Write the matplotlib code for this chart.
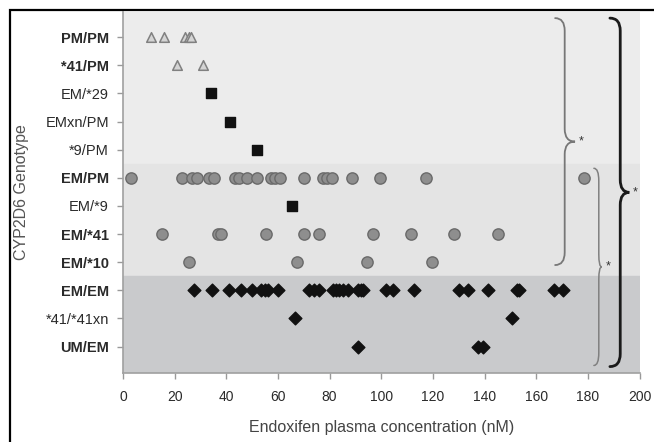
import matplotlib
matplotlib.use('Agg')
import matplotlib.pyplot as plt
import matplotlib.patches as patches
from matplotlib.path import Path
import numpy as np

plt.rcParams['font.family'] = ['Liberation Sans', 'DejaVu Sans']

# genotypes, top to bottom
genotypes = ['PM/PM', '*41/PM', 'EM/*29', 'EMxn/PM', '*9/PM', 'EM/PM',
             'EM/*9', 'EM/*41', 'EM/*10', 'EM/EM', '*41/*41xn', 'UM/EM']
bold_labels = ['PM/PM', '*41/PM', 'EM/PM', 'EM/*41', 'EM/*10', 'EM/EM', 'UM/EM']

# endoxifen concentrations (nM) per genotype
pm_pm = [11, 16, 24, 25.5, 26.5]
g41_pm = [21, 31]
em_29 = [34.2]
emxn_pm = [41.4]
g9_pm = [52]
em_pm = [3.3, 23, 26.7, 28.7, 33.5, 35.4, 43.3, 45.1, 48.2, 51.8, 57.4, 59,
         60.8, 70, 77.4, 79, 80.9, 88.6, 99.6, 117.4, 178.3]
em_9 = [65.3]
em_41 = [15.1, 36.9, 38, 55.3, 70.1, 75.8, 96.9, 111.4, 128, 145]
em_10 = [25.4, 67.2, 94.4, 119.6]
em_em = [27.5, 34.5, 41, 45.8, 50, 53.5, 55, 56, 60, 72, 74, 76, 81.5, 82.5,
         83.5, 85, 87, 91, 92, 93, 102, 104.5, 112.5, 130, 133.5, 141.5,
         152.5, 153.5, 167, 170.5]
g41_41xn = [66.5, 150.5]
um_em = [90.9, 137.3, 139.2]

ypos = {g: len(genotypes) - i for i, g in enumerate(genotypes)}

fig = plt.figure(figsize=(6.54, 4.42), dpi=100)
ax = fig.add_axes([0.188, 0.156, 0.79, 0.817])

# shaded bands
ax.axhspan(ypos['*9/PM'] - 0.5, 13, color='#ececec', zorder=0)
ax.axhspan(ypos['EM/*10'] - 0.5, ypos['*9/PM'] - 0.5, color='#e4e4e4', zorder=0)
ax.axhspan(0, ypos['EM/*10'] - 0.5, color='#c9cacc', zorder=0)

tri = dict(marker='^', s=48, facecolor='#d4d4d4', edgecolor='#808080', linewidth=1.1, zorder=3)
sq = dict(marker='s', s=50, color='#111111', zorder=3)
circ = dict(marker='o', s=66, facecolor='#8e8e8e', edgecolor='#6a6a6a', linewidth=1, zorder=3)
dia = dict(marker='D', s=42, color='#111111', zorder=3)

def row(vals, g, style):
    ax.scatter(vals, [ypos[g]] * len(vals), **style)

row(pm_pm, 'PM/PM', tri)
row(g41_pm, '*41/PM', tri)
row(em_29, 'EM/*29', sq)
row(emxn_pm, 'EMxn/PM', sq)
row(g9_pm, '*9/PM', sq)
row(em_pm, 'EM/PM', circ)
row(em_9, 'EM/*9', sq)
row(em_41, 'EM/*41', circ)
row(em_10, 'EM/*10', circ)
row(em_em, 'EM/EM', dia)
row(g41_41xn, '*41/*41xn', dia)
row(um_em, 'UM/EM', dia)

# curly braces
def brace(xe, xb, xt, yt, yb, color, lw, h=0.45):
    ym = (yt + yb) / 2
    verts = [(xe, yt), (xb, yt), (xb, yt - h),
             (xb, ym + h), (xb, ym), (xt, ym),
             (xb, ym), (xb, ym - h),
             (xb, yb + h), (xb, yb), (xe, yb)]
    codes = [Path.MOVETO, Path.CURVE3, Path.CURVE3,
             Path.LINETO, Path.CURVE3, Path.CURVE3,
             Path.CURVE3, Path.CURVE3,
             Path.LINETO, Path.CURVE3, Path.CURVE3]
    ax.add_patch(patches.PathPatch(Path(verts, codes), fill=False, edgecolor=color,
                                   linewidth=lw, zorder=4, capstyle='round'))
    ax.text(xt + 1.5, ym, '*', fontsize=9, color='#333333', va='center', ha='left', zorder=5)

top = ypos['PM/PM'] + 0.68
brace(167.3, 171, 175, top, ypos['EM/*10'] - 0.1, '#777777', 1.3)
brace(182.3, 184.2, 185.3, ypos['EM/PM'] + 0.34, ypos['UM/EM'] - 0.67, '#808080', 1.1)
brace(188.5, 192.5, 196, top, ypos['UM/EM'] - 0.71, '#1a1a1a', 2.0)

ax.set_xlim(0, 200)
ax.set_ylim(0.06, 12.9)
ax.set_xticks(np.arange(0, 201, 20))
ax.set_yticks([ypos[g] for g in genotypes])
ax.set_yticklabels(genotypes)
for lab in ax.get_yticklabels():
    if lab.get_text() in bold_labels:
        lab.set_fontweight('bold')

ax.tick_params(axis='both', colors='#999999', labelcolor='#2a2a2a', length=4, width=1)
ax.tick_params(axis='y', pad=6, labelsize=10.5)
ax.tick_params(axis='x', pad=8, labelsize=10)
for s in ['top', 'right']:
    ax.spines[s].set_visible(False)
for s in ['left', 'bottom']:
    ax.spines[s].set_color('#a0a0a0')
    ax.spines[s].set_linewidth(1.2)

ax.set_xlabel('Endoxifen plasma concentration (nM)', fontsize=11.5, color='#444444', labelpad=12)
ax.set_ylabel('CYP2D6 Genotype', fontsize=11.5, color='#555555', labelpad=12)

# black frame around the figure
fig.patches.append(patches.Rectangle((10 / 654, -0.1), 1.2, 1 - 9.5 / 442 + 0.1,
                                     transform=fig.transFigure, fill=False,
                                     edgecolor='black', linewidth=1.6))

plt.savefig('out.png', dpi=100)
